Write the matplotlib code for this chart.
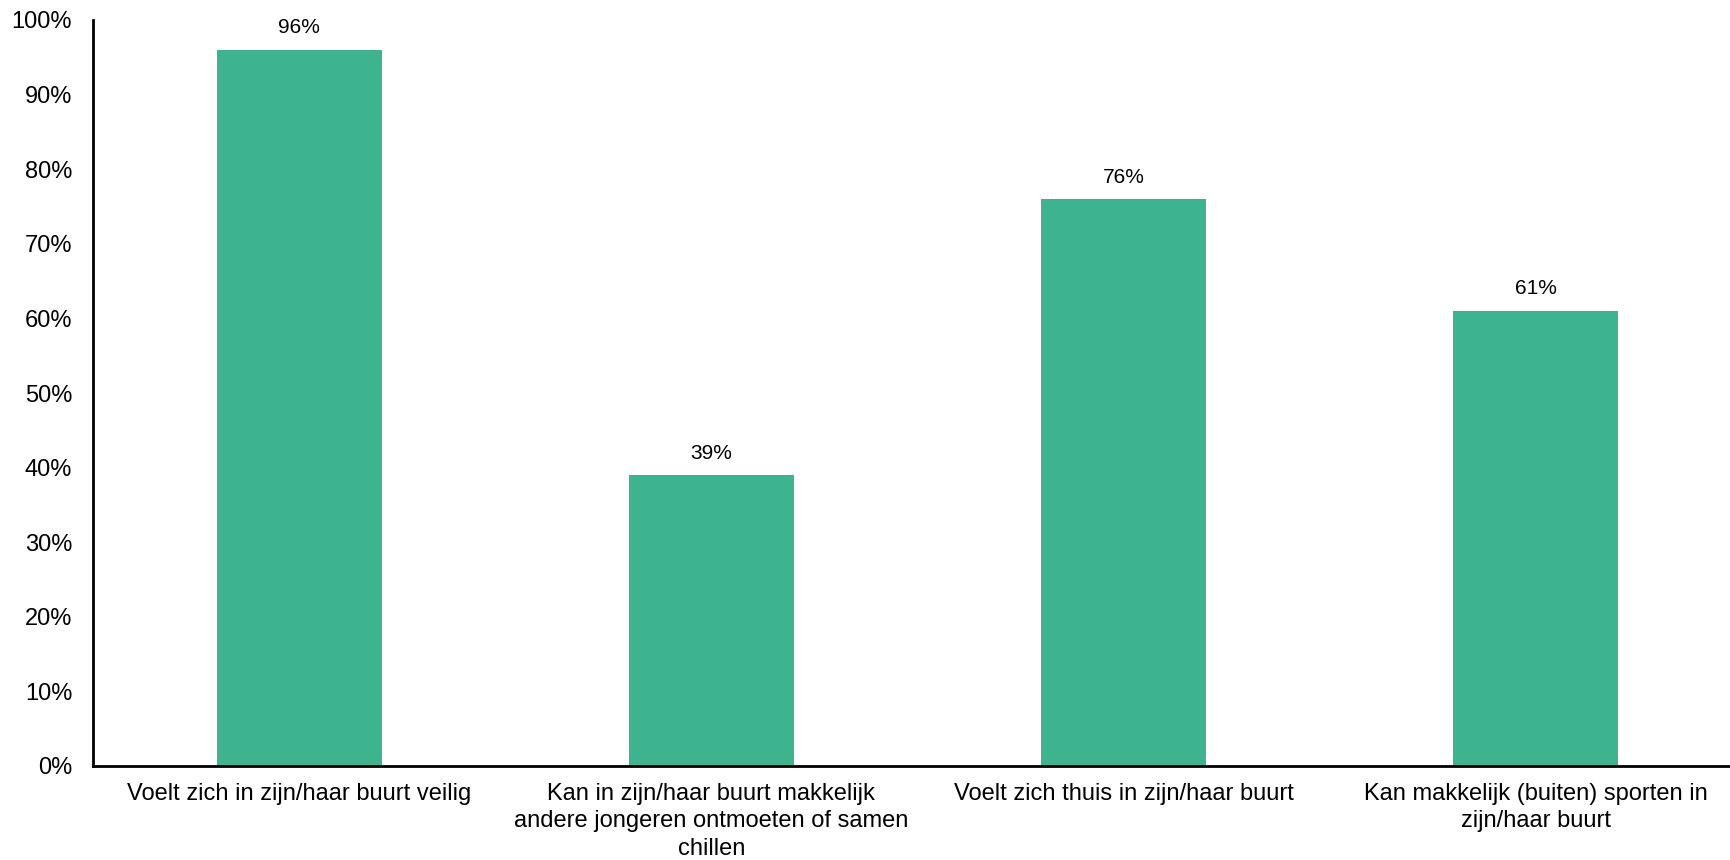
import matplotlib
matplotlib.use("Agg")
import matplotlib.pyplot as plt
from matplotlib.ticker import PercentFormatter, MultipleLocator

categories = [
    "Voelt zich in zijn/haar buurt veilig",
    "Kan in zijn/haar buurt makkelijk\nandere jongeren ontmoeten of samen\nchillen",
    "Voelt zich thuis in zijn/haar buurt",
    "Kan makkelijk (buiten) sporten in\nzijn/haar buurt",
]
values = [0.96, 0.39, 0.76, 0.61]
value_labels = ["96%", "39%", "76%", "61%"]

plt.rcParams['font.family'] = ['Liberation Sans', 'DejaVu Sans']

fig = plt.figure(figsize=(17.31, 8.60), dpi=100)
ax = fig.add_axes([93/1731, 1 - 766/860, (1742 - 93)/1731, (766 - 20)/860])

x = list(range(len(categories)))
bars = ax.bar(x, values, width=0.40, color="#3DB38F")
ax.set_xlim(-0.5, len(categories) - 0.5)
ax.set_ylim(0, 1)
ax.yaxis.set_major_locator(MultipleLocator(0.1))
ax.yaxis.set_major_formatter(PercentFormatter(1.0, decimals=0))

for xi, v, lab in zip(x, values, value_labels):
    ax.annotate(lab, (xi, v), xytext=(0, 9), textcoords="offset points",
                ha="center", va="bottom", fontsize=15, color="black")

ax.set_xticks(x)
ax.set_xticklabels(categories, fontsize=17, linespacing=1.33)
ax.tick_params(axis="x", length=0, pad=12)
ax.tick_params(axis="y", length=0, pad=15, labelsize=17)

for s in ["top", "right"]:
    ax.spines[s].set_visible(False)
for s in ["left", "bottom"]:
    ax.spines[s].set_linewidth(2)
    ax.spines[s].set_color("black")

fig.savefig("out.png", dpi=100)
